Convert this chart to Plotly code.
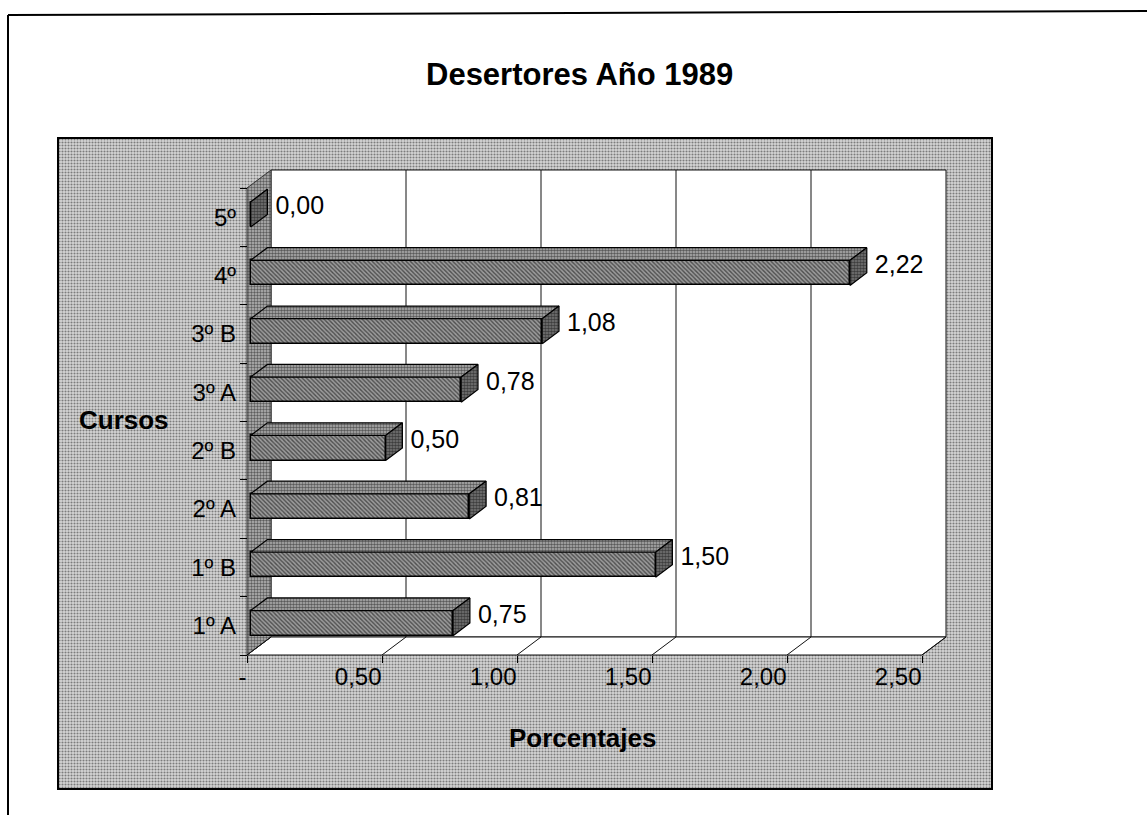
import plotly.graph_objects as go

# ---- data -------------------------------------------------------------
cursos = ["1º A", "1º B", "2º A", "2º B", "3º A", "3º B", "4º", "5º"]
porcentajes = [0.75, 1.50, 0.81, 0.50, 0.78, 1.08, 2.22, 0.00]
x_tick_vals = [0, 0.5, 1.0, 1.5, 2.0, 2.5]
x_tick_text = ["-", "0,50", "1,00", "1,50", "2,00", "2,50"]

# ---- page geometry (pixels) -------------------------------------------
W, H = 1147, 815
PANEL_L, PANEL_T, PANEL_R, PANEL_B = 58, 138, 992, 789
ORIGIN_X, ORIGIN_Y = 247, 655          # front-left-bottom corner of the box
PX_PER_UNIT_X = 270.0
PX_PER_CAT = 58.375
DEPTH_X_PX, DEPTH_Y_PX = 24, 18

n = len(cursos)
x_max = x_tick_vals[-1]
y_min, y_max = -0.5, n - 0.5

x_range = [(PANEL_L - ORIGIN_X) / PX_PER_UNIT_X, (PANEL_R - ORIGIN_X) / PX_PER_UNIT_X]
y_range = [y_min - (PANEL_B - ORIGIN_Y) / PX_PER_CAT, y_min + (ORIGIN_Y - PANEL_T) / PX_PER_CAT]
x_domain = [PANEL_L / W, PANEL_R / W]
y_domain = [1 - PANEL_B / H, 1 - PANEL_T / H]

dx = DEPTH_X_PX / PX_PER_UNIT_X        # depth offset in data units
dy = DEPTH_Y_PX / PX_PER_CAT
f0, f1 = 0.15, 0.85                    # bar front / back inside the depth
bar_h = 0.43

FONT = "Arial, Liberation Sans, sans-serif"


def poly(points):
    xs = [p[0] for p in points] + [points[0][0]]
    ys = [p[1] for p in points] + [points[0][1]]
    return xs, ys


fig = go.Figure()

# ---- chart background panel (halftone grey) ----------------------------
bx, by = poly([(x_range[0], y_range[0]), (x_range[1], y_range[0]),
               (x_range[1], y_range[1]), (x_range[0], y_range[1])])
fig.add_trace(go.Scatter(
    x=bx, y=by, mode="lines", fill="toself", line=dict(width=0),
    fillcolor="rgba(0,0,0,0)",
    fillpattern=dict(shape=".", fgcolor="#222", bgcolor="#d6d6d6", size=3, solidity=0.4),
    hoverinfo="skip", showlegend=False))

# ---- back wall ----------------------------------------------------------
wx, wy = poly([(dx, y_min + dy), (x_max + dx, y_min + dy),
               (x_max + dx, y_max + dy), (dx, y_max + dy)])
fig.add_trace(go.Scatter(
    x=wx, y=wy, mode="lines", fill="toself", fillcolor="white",
    line=dict(color="#111", width=1), hoverinfo="skip", showlegend=False))

# ---- floor --------------------------------------------------------------
fx, fy = poly([(0, y_min), (x_max, y_min), (x_max + dx, y_min + dy), (dx, y_min + dy)])
fig.add_trace(go.Scatter(
    x=fx, y=fy, mode="lines", fill="toself", fillcolor="white",
    line=dict(color="#111", width=1), hoverinfo="skip", showlegend=False))

# ---- left side wall -----------------------------------------------------
sx, sy = poly([(0, y_min), (dx, y_min + dy), (dx, y_max + dy), (0, y_max)])
fig.add_trace(go.Scatter(
    x=sx, y=sy, mode="lines", fill="toself", fillcolor="rgba(0,0,0,0)",
    fillpattern=dict(shape=".", fgcolor="#000", bgcolor="#b8b8b8", size=3, solidity=0.5),
    line=dict(color="#333", width=1), hoverinfo="skip", showlegend=False))

# ---- gridlines on the back wall and on the floor ------------------------
gx, gy = [], []
for t in x_tick_vals[1:-1]:
    gx += [t + dx, t + dx, None]
    gy += [y_min + dy, y_max + dy, None]
for t in x_tick_vals:
    gx += [t, t + dx, None]
    gy += [y_min, y_min + dy, None]
fig.add_trace(go.Scatter(x=gx, y=gy, mode="lines", line=dict(color="#111", width=1),
                         hoverinfo="skip", showlegend=False))

# ---- bars (drawn on an overlaid subplot so they sit above the walls) ----
ys_front = [i + f0 * dy for i in range(n)]
fig.add_trace(go.Bar(
    x=porcentajes, y=ys_front, base=f0 * dx, orientation="h", width=bar_h,
    marker=dict(color="#6e6e6e",
                pattern=dict(shape="\\", fgcolor="#000", bgcolor="#9c9c9c", size=3, solidity=0.45),
                line=dict(color="black", width=1.5)),
    xaxis="x2", yaxis="y2", hoverinfo="skip", showlegend=False))

tx, ty, ex, ey = [], [], [], []
for i, v in enumerate(porcentajes):
    top = i + bar_h / 2
    bot = i - bar_h / 2
    px, py = poly([(f0 * dx, top + f0 * dy), (v + f0 * dx, top + f0 * dy),
                   (v + f1 * dx, top + f1 * dy), (f1 * dx, top + f1 * dy)])
    tx += px + [None]
    ty += py + [None]
    px, py = poly([(v + f0 * dx, bot + f0 * dy), (v + f1 * dx, bot + f1 * dy),
                   (v + f1 * dx, top + f1 * dy), (v + f0 * dx, top + f0 * dy)])
    ex += px + [None]
    ey += py + [None]

fig.add_trace(go.Scatter(
    x=tx, y=ty, mode="lines", fill="toself", fillcolor="rgba(0,0,0,0)",
    fillpattern=dict(shape=".", fgcolor="#000", bgcolor="#b4b4b4", size=3, solidity=0.55),
    line=dict(color="black", width=1.2), xaxis="x2", yaxis="y2",
    hoverinfo="skip", showlegend=False))
fig.add_trace(go.Scatter(
    x=ex, y=ey, mode="lines", fill="toself", fillcolor="rgba(0,0,0,0)",
    fillpattern=dict(shape=".", fgcolor="#000", bgcolor="#7a7a7a", size=3, solidity=0.6),
    line=dict(color="black", width=1.2), xaxis="x2", yaxis="y2",
    hoverinfo="skip", showlegend=False))

# ---- value labels -------------------------------------------------------
label_off = 8 / PX_PER_UNIT_X
fig.add_trace(go.Scatter(
    x=[v + f1 * dx + label_off for v in porcentajes],
    y=[i + 0.5 * dy for i in range(n)],
    mode="text", text=[f"{v:.2f}".replace(".", ",") for v in porcentajes],
    textposition="middle right", textfont=dict(family=FONT, size=25, color="black"),
    xaxis="x2", yaxis="y2", hoverinfo="skip", showlegend=False))

# ---- layout -------------------------------------------------------------
axis_common = dict(showgrid=False, zeroline=False, showline=False, fixedrange=True)
fig.update_layout(
    width=W, height=H, autosize=False,
    margin=dict(l=0, r=0, t=0, b=0),
    paper_bgcolor="white", plot_bgcolor="rgba(0,0,0,0)",
    showlegend=False, bargap=0,
    xaxis=dict(domain=x_domain, range=x_range, anchor="free", position=1 - ORIGIN_Y / H,
               tickmode="array", tickvals=x_tick_vals, ticktext=x_tick_text,
               ticks="outside", ticklen=7, tickcolor="black", tickwidth=1,
               ticklabelposition="outside left",
               tickfont=dict(family=FONT, size=24, color="black"), **axis_common),
    yaxis=dict(domain=y_domain, range=y_range, anchor="free", position=ORIGIN_X / W,
               tickmode="array", tickvals=[k - 0.5 for k in range(n + 1)],
               ticks="outside", ticklen=7, tickcolor="black", showticklabels=False,
               **axis_common),
    xaxis2=dict(domain=x_domain, range=x_range, overlaying="x", anchor="y2",
                showticklabels=False, ticks="", **axis_common),
    yaxis2=dict(domain=y_domain, range=y_range, overlaying="y", anchor="free",
                position=ORIGIN_X / W, tickmode="array", tickvals=list(range(n)),
                ticktext=cursos, ticks="", ticklabelstandoff=11,
                tickfont=dict(family=FONT, size=24, color="black"), **axis_common),
    annotations=[
        dict(text="<b>Desertores Año 1989</b>", x=579 / W, y=1 - 74 / H,
             xref="paper", yref="paper", showarrow=False, xanchor="center", yanchor="middle",
             font=dict(family=FONT, size=31, color="black")),
        dict(text="<b>Cursos</b>", x=124 / W, y=1 - 420 / H,
             xref="paper", yref="paper", showarrow=False, xanchor="center", yanchor="middle",
             font=dict(family=FONT, size=26, color="black")),
        dict(text="<b>Porcentajes</b>", x=583 / W, y=1 - 738 / H,
             xref="paper", yref="paper", showarrow=False, xanchor="center", yanchor="middle",
             font=dict(family=FONT, size=26, color="black")),
    ],
    shapes=[
        dict(type="rect", xref="paper", yref="paper",
             x0=PANEL_L / W, x1=PANEL_R / W, y0=1 - PANEL_B / H, y1=1 - PANEL_T / H,
             line=dict(color="black", width=2), layer="above"),
        dict(type="line", xref="paper", yref="paper",
             x0=8 / W, x1=1.0, y0=1 - 15 / H, y1=1 - 11 / H,
             line=dict(color="black", width=2)),
        dict(type="line", xref="paper", yref="paper",
             x0=8 / W, x1=8 / W, y0=1 - 15 / H, y1=0,
             line=dict(color="black", width=2)),
    ],
)

fig.write_html("out.html")
